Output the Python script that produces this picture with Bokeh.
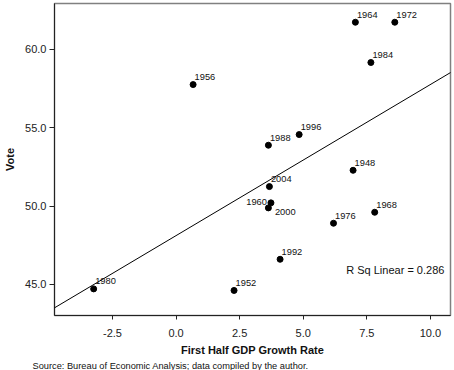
import numpy as np
from bokeh.plotting import figure
from bokeh.models import (ColumnDataSource, Range1d, FixedTicker, NumeralTickFormatter,
                          Slope, Label, Title)
from bokeh.core.properties import value
from bokeh.embed import file_html
from bokeh.resources import INLINE

# ---- data ----
years = ["1948", "1952", "1956", "1960", "1964", "1968", "1972", "1976",
         "1980", "1984", "1988", "1992", "1996", "2000", "2004"]
gdp_growth = [6.96, 2.28, 0.67, 3.73, 7.05, 7.81, 8.60, 6.19,
              -3.24, 7.66, 3.63, 4.09, 4.84, 3.63, 3.67]
vote = [52.29, 44.62, 57.76, 50.21, 61.74, 49.61, 61.74, 48.91,
        44.72, 59.17, 53.89, 46.61, 54.57, 49.89, 51.25]
x_ticks = [-2.5, 0.0, 2.5, 5.0, 7.5, 10.0]
y_ticks = [45.0, 50.0, 55.0, 60.0]
r_sq_text = "R Sq Linear = 0.286"
x_title = "First Half GDP Growth Rate"
y_title = "Vote"
source_note = "Source: Bureau of Economic Analysis; data compiled by the author."

# label placement (style only): default above-right, a few exceptions
special_place = {"1960": "left", "2000": "below_right"}

FONT = "Liberation Sans"
X0, X1 = -4.78, 10.79
Y0, Y1 = 43.021, 62.936

x_off, y_off, align = [], [], []
for yr in years:
    pl = special_place.get(yr, "above_right")
    if pl == "left":
        x_off.append(-4); y_off.append(-1); align.append("right")
    elif pl == "below_right":
        x_off.append(6.5); y_off.append(4); align.append("left")
    else:
        x_off.append(1.5); y_off.append(-7.5); align.append("left")

src = ColumnDataSource(dict(x=gdp_growth, y=vote, year=years,
                            xo=x_off, yo=y_off, al=align))

p = figure(width=454, height=370, output_backend="svg", toolbar_location=None,
           x_range=Range1d(X0, X1), y_range=Range1d(Y0, Y1),
           min_border_left=54, min_border_right=4, min_border_top=3,
           min_border_bottom=55, background_fill_color="white",
           border_fill_color="white")

p.xgrid.visible = False
p.ygrid.visible = False
p.outline_line_color = "#808080"
p.outline_line_width = 1.5

for ax in (p.xaxis[0], p.yaxis[0]):
    ax.axis_line_color = "#222222"
    ax.major_tick_line_color = "#222222"
    ax.major_tick_in = 0
    ax.major_tick_out = 4
    ax.minor_tick_line_color = None
    ax.major_label_text_font = FONT
    ax.major_label_text_font_size = "11px"
    ax.major_label_text_color = "#222222"
    ax.axis_label_text_font = FONT
    ax.axis_label_text_font_size = "11px"
    ax.axis_label_text_font_style = "bold"
    ax.axis_label_text_color = "#111111"
    ax.axis_label_text_line_height = 1.0
    ax.formatter = NumeralTickFormatter(format="0.0")

p.xaxis[0].ticker = FixedTicker(ticks=x_ticks)
p.yaxis[0].ticker = FixedTicker(ticks=y_ticks)
p.xaxis[0].axis_label = x_title
p.yaxis[0].axis_label = y_title
p.xaxis[0].major_label_standoff = 9
p.xaxis[0].axis_label_standoff = 4
p.yaxis[0].major_tick_out = 5
p.yaxis[0].major_label_standoff = 3
p.yaxis[0].axis_label_standoff = 6

# regression line (least squares through the points)
slope, intercept = np.polyfit(gdp_growth, vote, 1)
p.add_layout(Slope(gradient=slope, y_intercept=intercept,
                   line_color="black", line_width=1))

p.scatter("x", "y", source=src, size=6, color="black")
p.text("x", "y", text="year", source=src, x_offset="xo", y_offset="yo",
       text_align="al", text_baseline="middle", text_font=value(FONT),
       text_font_size="9.3px", text_color="#111111")

p.add_layout(Label(x=10.55, y=45.9, text=r_sq_text, text_align="right",
                   text_baseline="middle", text_font=FONT,
                   text_font_size="11px", text_color="#111111"))

# source note under the axis title
p.add_layout(Title(text=source_note, align="left", offset=-22,
                   text_font=FONT, text_font_size="9.25px",
                   text_font_style="normal", text_color="#111111",
                   standoff=0), "below")

open("out.html", "w").write(file_html(p, INLINE))
